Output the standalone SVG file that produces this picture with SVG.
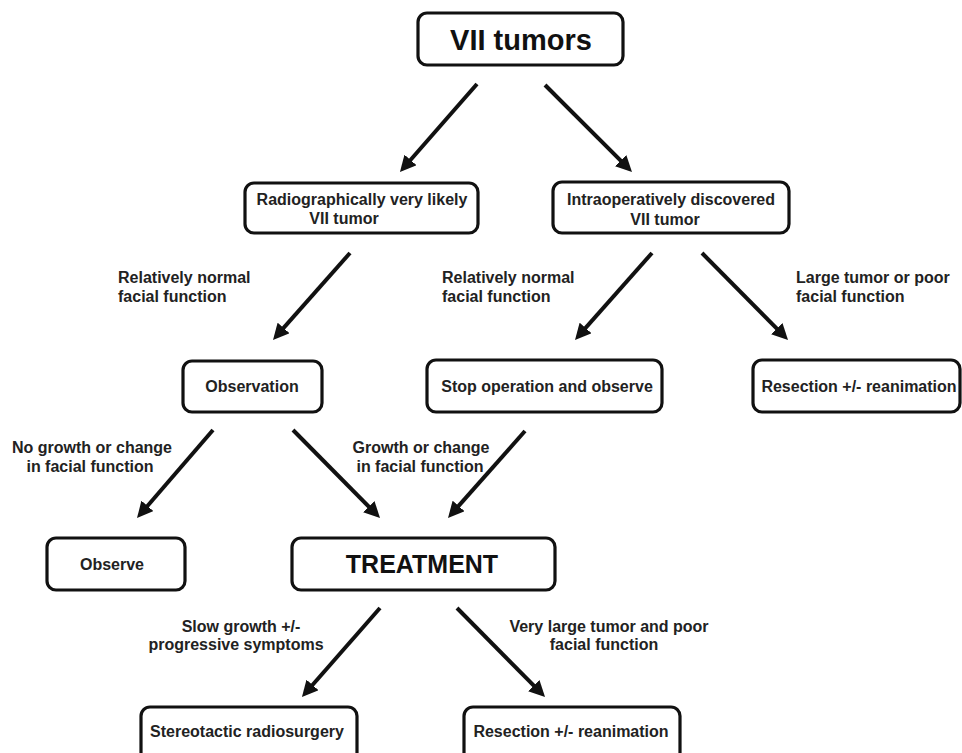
<svg xmlns="http://www.w3.org/2000/svg" width="962" height="753" viewBox="0 0 962 753">
<style>
.box{fill:#fff;stroke:#111;stroke-width:3.2}
.t{font-family:"Liberation Sans",Arial,sans-serif;font-weight:bold;font-size:16px;fill:#222;text-anchor:middle}
.l{font-family:"Liberation Sans",Arial,sans-serif;font-weight:bold;font-size:16px;fill:#222}
.big{font-size:29px;fill:#111}
.tr{font-size:25px;fill:#111}
.arr{stroke:#111;stroke-width:4;fill:none;marker-end:url(#ah)}
</style>
<defs>
<marker id="ah" markerUnits="userSpaceOnUse" markerWidth="16" markerHeight="16" refX="5" refY="8" orient="auto">
<path d="M0,0 L16,8 L0,16 z" fill="#111"/>
</marker>
</defs>
<rect width="962" height="753" fill="#fff"/>
<g id="connectors">
<line class="arr" x1="477" y1="84" x2="407.2" y2="163.7"/>
<line class="arr" x1="545" y1="85" x2="624.2" y2="164.2"/>
<line class="arr" x1="350" y1="253" x2="280.3" y2="331.7"/>
<line class="arr" x1="652" y1="253" x2="582.3" y2="331.7"/>
<line class="arr" x1="702" y1="253" x2="780.3" y2="332.2"/>
<line class="arr" x1="213" y1="430" x2="144.2" y2="509.7"/>
<line class="arr" x1="293" y1="430" x2="372.3" y2="510.2"/>
<line class="arr" x1="525" y1="431" x2="455.3" y2="509.7"/>
<line class="arr" x1="380" y1="608" x2="309.2" y2="688.7"/>
<line class="arr" x1="457" y1="608" x2="537.3" y2="689.2"/>
</g>
<g id="labels">
<text class="l" x="118" y="283">Relatively normal</text>
<text class="l" x="118" y="302">facial function</text>
<text class="l" x="442" y="283">Relatively normal</text>
<text class="l" x="442" y="302">facial function</text>
<text class="l" x="796" y="283">Large tumor or poor</text>
<text class="l" x="796" y="302">facial function</text>
<text class="t" x="92" y="453">No growth or change</text>
<text class="t" x="90" y="472">in facial function</text>
<text class="t" x="421" y="453">Growth or change</text>
<text class="t" x="420" y="472">in facial function</text>
<text class="t" x="241" y="632">Slow growth +/-</text>
<text class="t" x="236" y="650">progressive symptoms</text>
<text class="t" x="609" y="632">Very large tumor and poor</text>
<text class="t" x="604" y="650">facial function</text>
</g>
<g id="n1"><rect class="box" x="418" y="13" width="205" height="52" rx="9"/><text class="t big" x="521" y="50">VII tumors</text></g>
<g id="n2"><rect class="box" x="245" y="183" width="233" height="50" rx="9"/><text class="t" x="362" y="205">Radiographically very likely</text><text class="t" x="344" y="224">VII tumor</text></g>
<g id="n3"><rect class="box" x="553" y="182" width="236" height="51" rx="9"/><text class="t" x="671" y="205">Intraoperatively discovered</text><text class="t" x="665" y="225">VII tumor</text></g>
<g id="n4"><rect class="box" x="183" y="361" width="139" height="51" rx="9"/><text class="t" x="252" y="392">Observation</text></g>
<g id="n5"><rect class="box" x="427" y="360" width="235" height="52" rx="9"/><text class="t" x="547" y="392">Stop operation and observe</text></g>
<g id="n6"><rect class="box" x="753" y="360" width="207" height="52" rx="9"/><text class="t" x="859" y="392">Resection +/- reanimation</text></g>
<g id="n7"><rect class="box" x="47" y="538" width="138" height="52" rx="9"/><text class="t" x="112" y="570">Observe</text></g>
<g id="n8"><rect class="box" x="292" y="538" width="263" height="52" rx="9"/><text class="t tr" x="422" y="573">TREATMENT</text></g>
<g id="n9"><rect class="box" x="141" y="707" width="216" height="60" rx="9"/><text class="t" x="247" y="737">Stereotactic radiosurgery</text></g>
<g id="n10"><rect class="box" x="464" y="707" width="216" height="60" rx="9"/><text class="t" x="571" y="737">Resection +/- reanimation</text></g>
</svg>
